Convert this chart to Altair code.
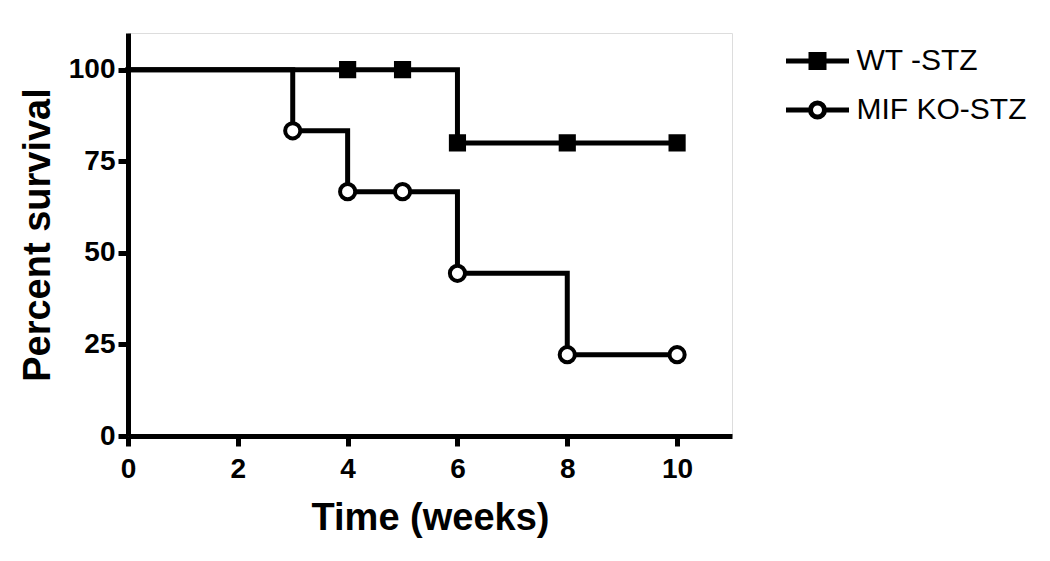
import altair as alt
import pandas as pd

groups = ["WT -STZ", "MIF KO-STZ"]
wt_time = [0, 4, 5, 6, 8, 10]
wt_surv = [100, 100, 100, 80, 80, 80]
wt_mark = [False, True, True, True, True, True]
ko_time = [0, 3, 4, 5, 6, 8, 10]
ko_surv = [100, 83.3, 66.7, 66.7, 44.4, 22.2, 22.2]
ko_mark = [False, True, True, True, True, True, True]
x_ticks = [0, 2, 4, 6, 8, 10]
y_ticks = [0, 25, 50, 75, 100]

rows = []
for t, s, m in zip(wt_time, wt_surv, wt_mark):
    rows.append({"group": groups[0], "time": t, "surv": s, "marker": m})
for t, s, m in zip(ko_time, ko_surv, ko_mark):
    rows.append({"group": groups[1], "time": t, "surv": s, "marker": m})
df = pd.DataFrame(rows)

FONT = "Liberation Sans"

x_enc = alt.X("time:Q", scale=alt.Scale(domain=[0, 11], nice=False),
              axis=alt.Axis(values=x_ticks, format="d", title="Time (weeks)", grid=False,
                            domainWidth=5, tickWidth=5, tickSize=10, tickColor="black",
                            domainColor="black", labelFont=FONT, labelFontSize=28,
                            labelFontWeight="bold", labelColor="black", labelPadding=9,
                            titleFont=FONT, titleFontSize=38, titleFontWeight="bold",
                            titleColor="black", titlePadding=16, labelFlush=False))
y_enc = alt.Y("surv:Q", scale=alt.Scale(domain=[0, 110], nice=False),
              axis=alt.Axis(values=y_ticks, title="Percent survival", grid=False,
                            domainWidth=5, tickWidth=5, tickSize=10, tickColor="black",
                            domainColor="black", labelFont=FONT, labelFontSize=28,
                            labelFontWeight="bold", labelColor="black", labelPadding=3,
                            titleFont=FONT, titleFontSize=38, titleFontWeight="bold",
                            titleColor="black", titlePadding=11, labelFlush=False))

base = alt.Chart(df)

lines = base.mark_line(interpolate="step-after", color="black", strokeWidth=5,
                       strokeJoin="miter", strokeCap="square").encode(
    x=x_enc, y=y_enc, detail="group:N", order="time:Q")

wt_pts = base.transform_filter(
    (alt.datum.marker == True) & (alt.datum.group == groups[0])
).mark_point(shape="square", filled=True, fill="black", stroke="black",
             strokeWidth=2, size=230, opacity=1).encode(x="time:Q", y="surv:Q")

ko_pts = base.transform_filter(
    (alt.datum.marker == True) & (alt.datum.group == groups[1])
).mark_point(shape="circle", filled=True, fill="white", stroke="black",
             strokeWidth=4, size=230, opacity=1).encode(x="time:Q", y="surv:Q")

sq_path = "M-6.3,0H6.3M-1.3,-1.3H1.3V1.3H-1.3Z"
ci_path = "M-6.3,0H-1.4M1.4,0H6.3M-1.4,0A1.4,1.4,0,1,0,1.4,0A1.4,1.4,0,1,0,-1.4,0Z"

legend = alt.Legend(title=None, orient="none", legendX=654.5, legendY=13,
                    symbolSize=100, symbolStrokeColor="black", symbolStrokeWidth=5,
                    symbolOpacity=1, symbolOffset=20, labelOffset=24,
                    labelFont=FONT, labelFontSize=30, labelColor="black",
                    labelLimit=400, rowPadding=15, padding=0)

legend_layer = base.mark_point(filled=True, opacity=0, size=0).encode(
    x="time:Q", y="surv:Q",
    shape=alt.Shape("group:N", scale=alt.Scale(domain=groups, range=[sq_path, ci_path]), legend=legend),
    fill=alt.Fill("group:N", scale=alt.Scale(domain=groups, range=["black", "white"]), legend=legend),
    stroke=alt.Stroke("group:N", scale=alt.Scale(domain=groups, range=["black", "black"]), legend=legend),
)

chart = alt.layer(lines, wt_pts, ko_pts, legend_layer).properties(
    width=604, height=403,
    autosize=alt.AutoSizeParams(type="none"),
    padding={"left": 120, "top": 25, "right": 310, "bottom": 117},
).configure_view(stroke=None).configure(background="white")

chart.save("out.html", embed_options={"renderer": "svg", "actions": False})
